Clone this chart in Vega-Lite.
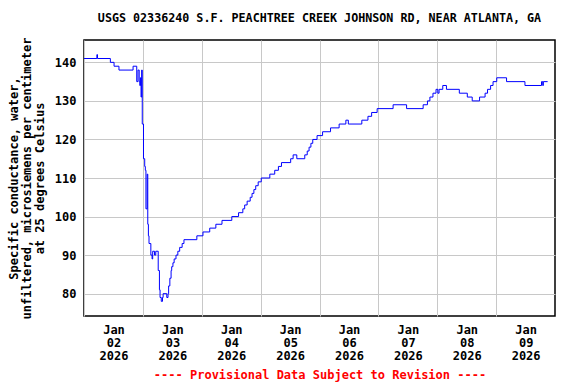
{
  "$schema": "https://vega.github.io/schema/vega-lite/v6.json",
  "autosize": {"type": "none"},
  "width": 471,
  "height": 276,
  "padding": {"left": 84, "top": 40, "right": 21, "bottom": 68},
  "background": "white",
  "title": {
    "text": "USGS 02336240 S.F. PEACHTREE CREEK JOHNSON RD, NEAR ATLANTA, GA",
    "font": "DejaVu Sans Mono",
    "fontSize": 11.7,
    "fontWeight": "bold",
    "color": "black",
    "anchor": "middle",
    "frame": "group",
    "offset": 12
  },
  "config": {
    "view": {"stroke": "black", "strokeWidth": 1.5},
    "axis": {
      "labelFont": "DejaVu Sans Mono",
      "labelFontSize": 12,
      "labelFontWeight": "bold",
      "labelColor": "black",
      "titleFont": "DejaVu Sans Mono",
      "titleFontSize": 12,
      "titleFontWeight": "bold",
      "titleColor": "black",
      "gridColor": "#c8c8c8",
      "gridWidth": 1,
      "gridOpacity": 1,
      "domain": false,
      "ticks": false
    }
  },
  "data": {
    "values": [
      {"t": "2026-01-02T00:00", "v": 141},
      {"t": "2026-01-02T05:15", "v": 142},
      {"t": "2026-01-02T05:30", "v": 141},
      {"t": "2026-01-02T10:45", "v": 140},
      {"t": "2026-01-02T12:15", "v": 139},
      {"t": "2026-01-02T14:15", "v": 138},
      {"t": "2026-01-02T20:00", "v": 139},
      {"t": "2026-01-02T21:30", "v": 135},
      {"t": "2026-01-02T22:00", "v": 138},
      {"t": "2026-01-02T22:30", "v": 135},
      {"t": "2026-01-02T22:45", "v": 134},
      {"t": "2026-01-02T23:00", "v": 136},
      {"t": "2026-01-02T23:15", "v": 131},
      {"t": "2026-01-02T23:30", "v": 138},
      {"t": "2026-01-02T23:45", "v": 124},
      {"t": "2026-01-03T00:15", "v": 115},
      {"t": "2026-01-03T00:45", "v": 113},
      {"t": "2026-01-03T01:00", "v": 112},
      {"t": "2026-01-03T01:15", "v": 102},
      {"t": "2026-01-03T01:45", "v": 111},
      {"t": "2026-01-03T02:00", "v": 98},
      {"t": "2026-01-03T02:15", "v": 95},
      {"t": "2026-01-03T02:30", "v": 93},
      {"t": "2026-01-03T03:15", "v": 90},
      {"t": "2026-01-03T03:45", "v": 89},
      {"t": "2026-01-03T04:00", "v": 91},
      {"t": "2026-01-03T04:45", "v": 90},
      {"t": "2026-01-03T05:15", "v": 91},
      {"t": "2026-01-03T06:15", "v": 86},
      {"t": "2026-01-03T06:45", "v": 81},
      {"t": "2026-01-03T07:00", "v": 79},
      {"t": "2026-01-03T07:30", "v": 78},
      {"t": "2026-01-03T08:00", "v": 79},
      {"t": "2026-01-03T08:15", "v": 80},
      {"t": "2026-01-03T09:45", "v": 79},
      {"t": "2026-01-03T10:15", "v": 80},
      {"t": "2026-01-03T10:30", "v": 82},
      {"t": "2026-01-03T11:00", "v": 84},
      {"t": "2026-01-03T11:30", "v": 86},
      {"t": "2026-01-03T11:45", "v": 87},
      {"t": "2026-01-03T12:15", "v": 88},
      {"t": "2026-01-03T12:45", "v": 89},
      {"t": "2026-01-03T13:30", "v": 90},
      {"t": "2026-01-03T14:15", "v": 91},
      {"t": "2026-01-03T15:00", "v": 92},
      {"t": "2026-01-03T16:00", "v": 93},
      {"t": "2026-01-03T16:45", "v": 94},
      {"t": "2026-01-03T22:00", "v": 95},
      {"t": "2026-01-04T00:30", "v": 96},
      {"t": "2026-01-04T03:15", "v": 97},
      {"t": "2026-01-04T05:45", "v": 98},
      {"t": "2026-01-04T08:15", "v": 99},
      {"t": "2026-01-04T12:15", "v": 100},
      {"t": "2026-01-04T15:00", "v": 101},
      {"t": "2026-01-04T16:45", "v": 102},
      {"t": "2026-01-04T17:30", "v": 103},
      {"t": "2026-01-04T18:30", "v": 104},
      {"t": "2026-01-04T19:45", "v": 105},
      {"t": "2026-01-04T20:30", "v": 106},
      {"t": "2026-01-04T21:15", "v": 107},
      {"t": "2026-01-04T22:00", "v": 108},
      {"t": "2026-01-04T23:00", "v": 109},
      {"t": "2026-01-05T00:15", "v": 110},
      {"t": "2026-01-05T03:45", "v": 111},
      {"t": "2026-01-05T05:45", "v": 112},
      {"t": "2026-01-05T07:15", "v": 113},
      {"t": "2026-01-05T08:30", "v": 114},
      {"t": "2026-01-05T12:15", "v": 115},
      {"t": "2026-01-05T13:15", "v": 116},
      {"t": "2026-01-05T14:45", "v": 115},
      {"t": "2026-01-05T18:00", "v": 116},
      {"t": "2026-01-05T19:00", "v": 117},
      {"t": "2026-01-05T19:45", "v": 118},
      {"t": "2026-01-05T20:30", "v": 119},
      {"t": "2026-01-05T21:15", "v": 120},
      {"t": "2026-01-05T23:00", "v": 121},
      {"t": "2026-01-06T01:15", "v": 122},
      {"t": "2026-01-06T04:30", "v": 123},
      {"t": "2026-01-06T08:00", "v": 124},
      {"t": "2026-01-06T10:45", "v": 125},
      {"t": "2026-01-06T11:45", "v": 124},
      {"t": "2026-01-06T17:15", "v": 125},
      {"t": "2026-01-06T19:45", "v": 126},
      {"t": "2026-01-06T21:15", "v": 127},
      {"t": "2026-01-06T23:30", "v": 128},
      {"t": "2026-01-07T06:00", "v": 129},
      {"t": "2026-01-07T11:30", "v": 128},
      {"t": "2026-01-07T18:15", "v": 129},
      {"t": "2026-01-07T20:00", "v": 130},
      {"t": "2026-01-07T21:00", "v": 131},
      {"t": "2026-01-07T22:15", "v": 132},
      {"t": "2026-01-07T23:30", "v": 133},
      {"t": "2026-01-08T00:15", "v": 132},
      {"t": "2026-01-08T00:45", "v": 133},
      {"t": "2026-01-08T02:15", "v": 134},
      {"t": "2026-01-08T03:45", "v": 133},
      {"t": "2026-01-08T09:00", "v": 132},
      {"t": "2026-01-08T12:15", "v": 131},
      {"t": "2026-01-08T14:15", "v": 130},
      {"t": "2026-01-08T17:15", "v": 131},
      {"t": "2026-01-08T19:30", "v": 132},
      {"t": "2026-01-08T20:30", "v": 133},
      {"t": "2026-01-08T21:45", "v": 134},
      {"t": "2026-01-08T22:45", "v": 135},
      {"t": "2026-01-09T00:15", "v": 136},
      {"t": "2026-01-09T04:15", "v": 135},
      {"t": "2026-01-09T11:45", "v": 134},
      {"t": "2026-01-09T18:30", "v": 135},
      {"t": "2026-01-09T19:00", "v": 134},
      {"t": "2026-01-09T19:15", "v": 135},
      {"t": "2026-01-09T21:00", "v": 135}
    ]
  },
  "mark": {"type": "line", "interpolate": "step-after", "color": "#0000ff", "strokeWidth": 1, "clip": true},
  "encoding": {
    "x": {
      "field": "t",
      "type": "temporal",
      "scale": {
        "domain": [
          {"year": 2026, "month": "jan", "date": 2},
          {"year": 2026, "month": "jan", "date": 10}
        ]
      },
      "axis": {
        "values": [
          {"year": 2026, "month": "jan", "date": 2},
          {"year": 2026, "month": "jan", "date": 3},
          {"year": 2026, "month": "jan", "date": 4},
          {"year": 2026, "month": "jan", "date": 5},
          {"year": 2026, "month": "jan", "date": 6},
          {"year": 2026, "month": "jan", "date": 7},
          {"year": 2026, "month": "jan", "date": 8},
          {"year": 2026, "month": "jan", "date": 9}
        ],
        "grid": true,
        "labelExpr": "[timeFormat(datum.value, '%b'), timeFormat(datum.value, '%d'), timeFormat(datum.value, '%Y')]",
        "labelOffset": 29.5,
        "labelAlign": "center",
        "labelBaseline": "top",
        "labelLineHeight": 13,
        "labelPadding": 8,
        "labelFlush": false,
        "labelOverlap": false,
        "labelBound": false,
        "title": "---- Provisional Data Subject to Revision ----",
        "titleColor": "#ff0000",
        "titlePadding": 8
      }
    },
    "y": {
      "field": "v",
      "type": "quantitative",
      "scale": {"domain": [74.2, 145.8], "nice": false, "zero": false},
      "axis": {
        "values": [80, 90, 100, 110, 120, 130, 140],
        "grid": true,
        "labelPadding": 8,
        "title": ["Specific conductance, water,", "unfiltered, microsiemens per centimeter", "at 25 degrees Celsius"],
        "titleLineHeight": 13,
        "titlePadding": 8
      }
    }
  }
}
